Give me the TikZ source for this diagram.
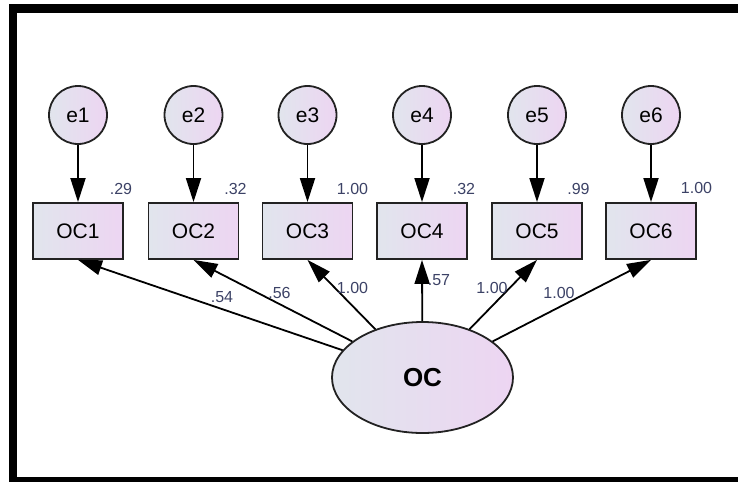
\documentclass[tikz,border=0pt]{standalone}
\usepackage{fontspec}
\setmainfont{Liberation Sans}
\usetikzlibrary{shapes.geometric,arrows.meta}
\definecolor{fillA}{HTML}{E1E5ED}
\definecolor{fillB}{HTML}{EDD5F2}
\definecolor{edgec}{HTML}{222222}
\definecolor{numc}{HTML}{3C4266}
\tikzset{
  shade fill/.style={left color=fillA, right color=fillB, shading angle=90},
  obs/.style={draw=edgec, line width=1.8pt, shade fill, rectangle,
    minimum width=90pt, minimum height=56pt, inner sep=0pt,
    font=\fontsize{21}{24}\selectfont},
  err/.style={draw=edgec, line width=1.8pt, shade fill, circle,
    minimum size=58pt, inner sep=0pt, font=\fontsize{21}{24}\selectfont},
  lat/.style={draw=edgec, line width=1.8pt, shade fill, ellipse,
    minimum width=181pt, minimum height=111pt, inner sep=0pt,
    font=\bfseries\fontsize{26}{30}\selectfont},
  path arrow/.style={draw=black, line width=1.8pt,
    -{Triangle[length=24pt,width=15pt]}},
  est/.style={text=numc, inner sep=0pt, font=\fontsize{16}{18}\selectfont}
}
\begin{document}
\begin{tikzpicture}[x=1pt,y=-1pt]
\useasboundingbox (0,0) rectangle (738,482);
\fill[white] (0,0) rectangle (738,482);
% frame
\fill[black] (9,4) rectangle (17,482);
\fill[black] (9,4) rectangle (738,12.5);
\fill[black] (9,477) rectangle (738,482);

% latent factor
\node[lat] (oc) at (422.5,377.5) {OC};

% indicators and their error terms
\foreach \i/\x in {1/78,2/193.5,3/307.5,4/422,5/537,6/651}{
  \node[obs] (oc\i) at (\x,231) {OC\i};
  \node[err] (e\i) at (\x,115) {e\i};
  \draw[path arrow] (e\i) -- (oc\i);
}
\foreach \i in {1,...,6}{
  \draw[path arrow] (oc) -- (oc\i.south);
}

% squared multiple correlations
\node[est] (r1) at (121,189) {.29};
\node[est] (r2) at (235.5,189) {.32};
\node[est] (r3) at (352.5,188.5) {1.00};
\node[est] (r4) at (464,189) {.32};
\node[est] (r5) at (578.5,189) {.99};
\node[est] (r6) at (696.5,188) {1.00};

% standardized loadings
\node[est] (l1) at (222,297) {.54};
\node[est] (l2) at (279.5,293) {.56};
\node[est] (l3) at (352.5,287.5) {1.00};
\node[est] (l4) at (439,280.5) {.57};
\node[est] (l5) at (492,287.5) {1.00};
\node[est] (l6) at (559,292.5) {1.00};
\end{tikzpicture}
\end{document}
